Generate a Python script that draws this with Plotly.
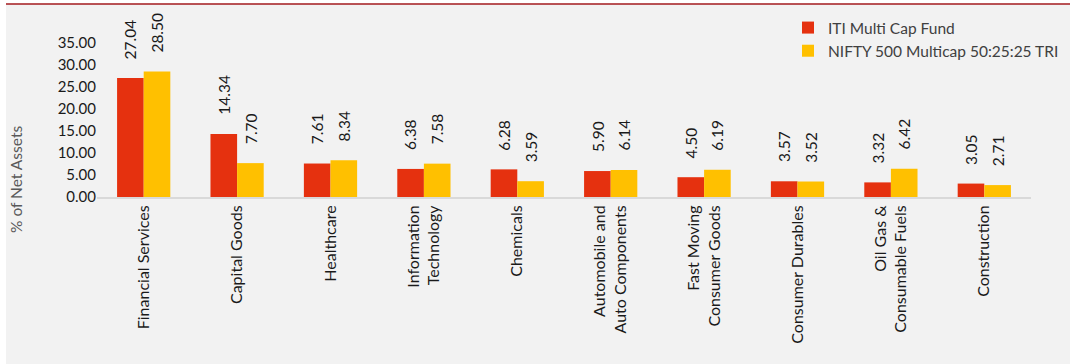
import plotly.graph_objects as go

categories = [
    "Financial Services", "Capital Goods", "Healthcare", "Information<br>Technology",
    "Chemicals", "Automobile and<br>Auto Components", "Fast Moving<br>Consumer Goods",
    "Consumer Durables", "Oil Gas &<br>Consumable Fuels", "Construction",
]
fund_values = [27.04, 14.34, 7.61, 6.38, 6.28, 5.90, 4.50, 3.57, 3.32, 3.05]
index_values = [28.50, 7.70, 8.34, 7.58, 3.59, 6.14, 6.19, 3.52, 6.42, 2.71]
fund_name = "ITI Multi Cap Fund"
index_name = "NIFTY 500 Multicap 50:25:25 TRI"
y_ticks = [0, 5, 10, 15, 20, 25, 30, 35]

W, H = 1085, 364
L, R, T, B = 97, 1031, 21, 197  # plot area pixels
pw, ph = R - L, B - T

def px_x(x):
    return (x - L) / pw

def px_y(y):
    return (B - y) / ph

FONT = "Lato"
BARGAP = 0.43
half_bar_px = pw / len(categories) * (1 - BARGAP) / 4

fig = go.Figure()
annotations = []
for k, (name, vals, col) in enumerate([(fund_name, fund_values, "#E5310F"),
                                        (index_name, index_values, "#FFC000")]):
    fig.add_trace(go.Bar(
        x=categories, y=vals, name=name, marker=dict(color=col, line=dict(width=0)),
    ))
    shift = -half_bar_px if k == 0 else half_bar_px
    for c, v in zip(categories, vals):
        annotations.append(dict(
            x=c, y=v, xref="x", yref="y", text=f"{v:.2f}", showarrow=False,
            textangle=-90, xanchor="center", yanchor="bottom", xshift=shift, yshift=17,
            font=dict(family=FONT, size=15.5, color="#1a1a1a"),
        ))

annotations.append(dict(
    text="% of Net Assets", xref="paper", yref="paper", x=px_x(16), y=px_y(180),
    textangle=-90, showarrow=False, xanchor="center", yanchor="middle",
    font=dict(family=FONT, size=15.5, color="#595959"),
))

fig.update_layout(
    width=W, height=H,
    margin=dict(l=L, r=W - R, t=T, b=H - B, autoexpand=False),
    paper_bgcolor="white", plot_bgcolor="rgba(0,0,0,0)",
    barmode="group", bargap=BARGAP, bargroupgap=0,
    font=dict(family=FONT, size=15, color="#1a1a1a"),
    showlegend=True,
    legend=dict(x=px_x(788), y=px_y(11), xanchor="left", yanchor="top",
                bgcolor="rgba(0,0,0,0)", font=dict(family=FONT, size=15.5, color="#404040"),
                itemwidth=30, tracegroupgap=0),
    shapes=[
        dict(type="rect", xref="paper", yref="paper", x0=px_x(6), x1=px_x(1070),
             y0=px_y(364), y1=px_y(4), fillcolor="#F2F2F2", line=dict(width=0), layer="below"),
        dict(type="line", xref="paper", yref="paper", x0=px_x(6), x1=px_x(1070),
             y0=px_y(4), y1=px_y(4), line=dict(color="#A31A1E", width=1.5)),
    ],
    annotations=annotations,
)
fig.update_xaxes(
    tickangle=-90, showline=True, linecolor="#D9D9D9", linewidth=2, ticks="",
    showgrid=False, tickfont=dict(family=FONT, size=16, color="#1a1a1a"),
)
fig.update_yaxes(
    range=[0, 40], tickvals=y_ticks, ticktext=[f"{v:.2f}" for v in y_ticks],
    showgrid=False, zeroline=False, showline=False, ticks="",
    tickfont=dict(family=FONT, size=15, color="#1a1a1a"),
)

fig.write_html("out.html", config={"displayModeBar": False},
               post_script="document.body.style.margin='0px';")
